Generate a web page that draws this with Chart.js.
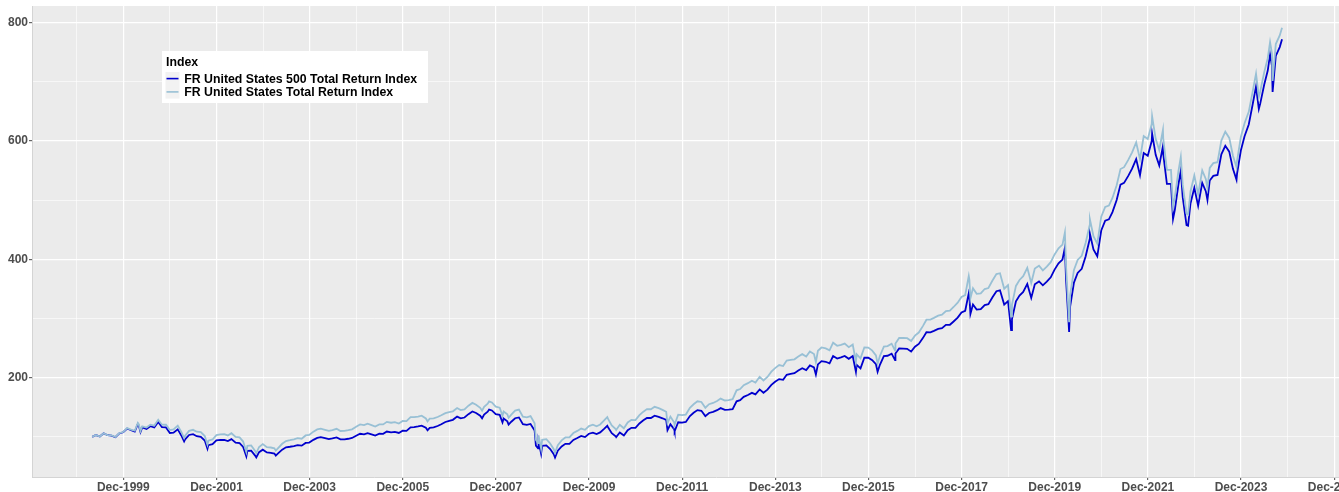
<!DOCTYPE html>
<html><head><meta charset="utf-8">
<script src="https://cdn.jsdelivr.net/npm/chart.js@4.4.1/dist/chart.umd.min.js"></script>
<style>
html,body{margin:0;padding:0;background:#fff;overflow:hidden;width:1339px;height:492px}
#wrap{position:relative;width:1400px;height:492px}
canvas{display:block}
</style></head><body>
<div id="wrap"><canvas id="c" width="1400" height="492"></canvas></div>
<script>
const dates = [
'1999-04-01','1999-04-30','1999-05-31','1999-06-30','1999-07-30','1999-08-31','1999-09-30','1999-10-29','1999-11-30','1999-12-31',
'2000-01-31','2000-02-29','2000-03-24','2000-03-31','2000-04-14','2000-04-28','2000-05-31','2000-06-30','2000-07-31','2000-08-31','2000-09-29','2000-10-31','2000-11-30','2000-12-29',
'2001-01-31','2001-02-28','2001-03-22','2001-03-30','2001-04-30','2001-05-31','2001-06-29','2001-07-31','2001-08-31','2001-09-21','2001-09-28','2001-10-31','2001-11-30','2001-12-31',
'2002-01-31','2002-02-28','2002-03-28','2002-04-30','2002-05-31','2002-06-28','2002-07-23','2002-07-31','2002-08-30','2002-09-30','2002-10-09','2002-10-31','2002-11-29','2002-12-31',
'2003-01-31','2003-02-28','2003-03-11','2003-03-31','2003-04-30','2003-05-30','2003-06-30','2003-07-31','2003-08-29','2003-09-30','2003-10-31','2003-11-28','2003-12-31',
'2004-01-30','2004-02-27','2004-03-31','2004-04-30','2004-05-28','2004-06-30','2004-07-30','2004-08-31','2004-09-30','2004-10-29','2004-11-30','2004-12-31',
'2005-01-31','2005-02-28','2005-03-31','2005-04-29','2005-05-31','2005-06-30','2005-07-29','2005-08-31','2005-09-30','2005-10-31','2005-11-30','2005-12-30',
'2006-01-31','2006-02-28','2006-03-31','2006-04-28','2006-05-31','2006-06-13','2006-06-30','2006-07-31','2006-08-31','2006-09-29','2006-10-31','2006-11-30','2006-12-29',
'2007-01-31','2007-02-28','2007-03-30','2007-04-30','2007-05-31','2007-06-29','2007-07-31','2007-08-15','2007-08-31','2007-09-28','2007-10-09','2007-10-31','2007-11-30','2007-12-31',
'2008-01-22','2008-01-31','2008-02-29','2008-03-10','2008-03-31','2008-04-30','2008-05-30','2008-06-30','2008-07-31','2008-08-29','2008-09-30','2008-10-10','2008-10-27','2008-10-31','2008-11-20','2008-11-28','2008-12-31',
'2009-01-30','2009-02-27','2009-03-09','2009-03-31','2009-04-30','2009-05-29','2009-06-30','2009-07-31','2009-08-31','2009-09-30','2009-10-30','2009-11-30','2009-12-31',
'2010-01-29','2010-02-26','2010-03-31','2010-04-23','2010-04-30','2010-05-28','2010-06-30','2010-07-02','2010-07-30','2010-08-31','2010-09-30','2010-10-29','2010-11-30','2010-12-31',
'2011-01-31','2011-02-28','2011-03-31','2011-04-29','2011-05-31','2011-06-30','2011-07-29','2011-08-08','2011-08-31','2011-09-30','2011-10-03','2011-10-31','2011-11-30','2011-12-30',
'2012-01-31','2012-02-29','2012-03-30','2012-04-30','2012-05-31','2012-06-29','2012-07-31','2012-08-31','2012-09-28','2012-10-31','2012-11-30','2012-12-31',
'2013-01-31','2013-02-28','2013-03-28','2013-04-30','2013-05-31','2013-06-28','2013-07-31','2013-08-30','2013-09-30','2013-10-31','2013-11-29','2013-12-31',
'2014-01-31','2014-02-28','2014-03-31','2014-04-30','2014-05-30','2014-06-30','2014-07-31','2014-08-29','2014-09-30','2014-10-15','2014-10-31','2014-11-28','2014-12-31',
'2015-01-30','2015-02-27','2015-03-31','2015-04-30','2015-05-29','2015-06-30','2015-07-31','2015-08-25','2015-08-31','2015-09-30','2015-10-30','2015-11-30','2015-12-31',
'2016-01-29','2016-02-11','2016-02-29','2016-03-31','2016-04-29','2016-05-31','2016-06-27','2016-06-30','2016-07-29','2016-08-31','2016-09-30','2016-10-31','2016-11-30','2016-12-30',
'2017-01-31','2017-02-28','2017-03-31','2017-04-28','2017-05-31','2017-06-30','2017-07-31','2017-08-31','2017-09-29','2017-10-31','2017-11-30','2017-12-29',
'2018-01-26','2018-01-31','2018-02-08','2018-02-28','2018-03-29','2018-04-30','2018-05-31','2018-06-29','2018-07-31','2018-08-31','2018-09-28','2018-10-31','2018-11-30','2018-12-24','2018-12-31',
'2019-01-31','2019-02-28','2019-03-29','2019-04-30','2019-05-31','2019-06-28','2019-07-31','2019-08-30','2019-09-30','2019-10-31','2019-11-29','2019-12-31',
'2020-01-31','2020-02-19','2020-02-28','2020-03-23','2020-03-31','2020-04-30','2020-05-29','2020-06-30','2020-07-31','2020-08-31','2020-09-02','2020-09-30','2020-10-30','2020-11-30','2020-12-31',
'2021-01-29','2021-02-26','2021-03-31','2021-04-30','2021-05-28','2021-06-30','2021-07-30','2021-08-31','2021-09-30','2021-10-29','2021-11-30','2021-12-31',
'2022-01-03','2022-01-31','2022-02-28','2022-03-29','2022-03-31','2022-04-29','2022-05-31','2022-06-16','2022-06-30','2022-07-29','2022-08-16','2022-08-31','2022-09-30','2022-10-12','2022-10-31','2022-11-30','2022-12-30',
'2023-01-31','2023-02-28','2023-03-13','2023-03-31','2023-04-28','2023-05-31','2023-06-30','2023-07-31','2023-08-31','2023-09-29','2023-10-27','2023-10-31','2023-11-30','2023-12-29',
'2024-01-31','2024-02-29','2024-03-28','2024-04-19','2024-04-30','2024-05-31','2024-06-28','2024-07-16','2024-07-31','2024-08-05','2024-08-30','2024-09-30','2024-10-18'
];

const fr500 = [
100,103.1,100.6,106.1,102.8,102.2,99.4,105.7,107.8,114.1,
111.2,109.0,121.9,119.6,108.2,115.9,113.4,118.0,116.1,125.0,116.5,115.9,106.6,107.1,
112.8,102.4,92.3,95.8,103.2,104.5,101.1,100.0,93.7,79.8,86.0,87.6,94.1,94.8,
94.7,92.8,96.1,90.3,89.4,83.0,66.9,76.4,76.8,68.3,65.1,74.2,78.4,73.7,
73.1,71.8,68.3,72.4,78.3,82.3,83.3,84.5,86.1,85.1,89.8,90.4,95.0,
98.2,99.4,97.7,96.1,97.3,99.0,95.7,95.8,96.8,98.1,101.9,105.2,
104.3,106.3,104.3,102.2,105.3,105.2,109.0,107.7,108.5,106.6,110.3,110.2,
116.2,116.3,117.6,119.0,115.3,111.1,115.3,116.0,118.4,121.3,125.1,127.2,128.8,
134.3,131.4,132.7,138.4,143.0,140.4,135.9,131.4,137.7,142.6,146.2,144.7,138.3,137.1,
124.3,130.9,126.3,120.8,125.6,131.5,132.9,121.5,120.2,121.8,110.7,85.3,80.5,92.0,71.4,85.0,85.7,
79.4,70.6,65.1,76.7,83.9,88.3,88.3,94.9,98.1,101.6,99.6,105.3,107.2,
104.7,107.6,114.0,118.7,115.7,106.2,100.5,99.6,107.4,102.3,111.2,115.3,115.1,122.7,
128.0,132.0,131.9,135.7,133.8,131.4,128.6,111.4,121.3,112.5,109.4,124.7,124.1,125.2,
135.3,140.8,145.2,144.1,135.1,140.4,142.2,145.1,148.6,145.6,146.0,147.0,
160.1,162.0,167.7,170.8,174.4,171.7,180.2,174.6,179.8,187.8,193.1,197.6,
196.5,204.9,206.3,207.6,212.0,216.0,212.8,220.7,217.3,205.2,222.4,227.9,226.9,
224.2,236.6,232.4,234.5,236.8,231.9,236.5,209.9,221.7,215.8,233.7,233.8,229.7,
222.7,210.0,221.8,236.5,237.1,240.7,229.7,241.0,249.6,249.2,248.9,244.1,252.4,257.0,
266.9,276.8,276.7,279.2,282.5,283.7,289.2,289.5,295.0,301.5,310.1,313.1,
342.8,336.9,307.9,323.8,315.1,315.9,322.7,324.3,336.0,346.2,347.6,323.5,329.3,280.5,299.1,
329.1,338.8,344.9,358.5,334.9,358.0,362.7,356.1,362.3,369.7,382.3,393.2,
399.7,419.5,366.0,277.2,320.3,360.8,377.1,384.1,405.3,433.7,443.6,416.7,405.2,448.8,465.4,
467.6,479.8,500.2,526.4,529.3,541.1,553.3,569.4,542.4,579.8,575.0,600.0,
612.6,576.7,558.6,591.5,578.5,527.7,527.7,468.3,483.3,527.4,549.7,505.1,457.9,456.8,494.5,521.0,490.4,
529.2,515.3,500.4,533.3,541.1,542.6,577.6,592.0,582.0,553.0,534.4,544.4,584.0,608.0,
628.0,660.0,691.9,654.2,663.2,695.1,719.1,746.3,727.2,683.0,743.8,758.8,772.0
];

const frTotal = [
100,103.1,100.6,106.2,103.0,102.5,99.7,106.1,108.2,114.7,
112.1,110.3,123.6,121.4,109.9,117.9,115.7,120.6,119.0,128.8,120.6,120.5,111.4,112.5,
118.9,108.3,98.0,101.8,110.1,111.9,108.7,107.9,101.5,86.7,93.5,95.6,103.0,104.3,
104.4,102.4,106.2,100.0,99.1,92.1,74.3,85.0,85.5,76.2,72.7,82.9,87.7,82.5,
82.0,80.7,76.8,81.5,88.3,93.0,94.3,95.8,97.8,96.8,102.4,103.2,108.8,
112.5,113.9,112.0,110.2,111.6,113.6,109.9,110.0,111.2,112.8,117.2,121.0,
119.9,122.2,119.9,117.5,121.1,121.0,125.4,123.9,124.8,122.6,126.8,126.7,
133.3,133.2,134.4,135.7,131.1,126.0,130.7,131.2,133.6,136.5,140.1,142.0,143.2,
148.8,145.3,146.6,152.7,157.4,154.4,149.2,144.1,150.9,156.1,159.9,158.2,151.0,149.4,
135.6,142.9,138.2,132.3,137.7,144.4,146.2,134.0,132.9,135.0,122.9,94.9,89.6,102.4,79.6,94.9,96.0,
88.9,79.1,72.9,85.9,94.0,99.0,99.0,106.4,110.1,114.1,111.9,118.3,120.6,
117.8,120.9,128.1,133.3,129.9,119.2,112.7,111.7,120.3,114.5,124.3,128.8,128.4,136.8,
142.6,146.9,146.7,150.8,148.5,145.7,142.5,123.3,134.2,124.3,120.8,137.5,136.8,137.7,
149.0,155.1,160.1,159.0,149.2,155.2,157.3,160.7,164.7,161.5,162.1,163.6,
178.7,180.9,187.3,190.8,194.9,191.9,201.5,195.3,201.2,210.2,216.2,221.3,
219.7,228.9,230.0,231.1,235.7,239.8,235.8,244.3,240.1,226.5,245.5,251.1,249.6,
246.2,259.1,254.0,255.6,257.6,251.6,256.1,226.7,239.4,232.6,251.2,250.9,245.8,
237.8,223.9,236.7,252.6,253.5,257.5,245.8,257.9,267.3,267.1,266.8,261.9,271.1,276.3,
287.2,298.0,298.2,301.1,304.9,306.5,312.6,313.3,319.5,326.8,336.5,339.7,
371.9,365.5,334.1,351.3,341.8,342.6,349.9,351.6,364.2,375.1,376.6,350.3,356.5,303.6,323.6,
355.1,365.2,371.5,385.7,360.0,384.5,389.2,381.4,387.7,395.2,407.9,418.8,
424.9,445.5,388.7,293.8,339.5,382.1,399.0,406.0,428.0,457.5,468.0,439.2,426.7,472.1,488.7,
491.0,503.8,525.2,552.7,555.8,568.1,580.9,597.6,569.3,608.5,603.4,628.8,
642.0,603.8,584.9,618.7,605.1,551.4,551.4,488.9,504.6,550.1,573.3,526.3,477.1,475.5,514.8,541.8,510.0,
550.4,535.9,520.4,554.6,562.7,564.3,600.7,615.7,605.3,575.1,555.8,566.2,606.8,630.0,
649.4,681.8,714.0,674.5,683.8,716.0,740.0,767.2,747.6,701.4,763.9,778.5,791.3
];

const seriesLabels = ['FR United States 500 Total Return Index', 'FR United States Total Return Index'];
const seriesColors = ['#0000CD', '#98C0D5'];
const legendTitle = 'Index';
const xTickYears = [1999,2001,2003,2005,2007,2009,2011,2013,2015,2017,2019,2021,2023,2025];
const xMinorYears = [1998,2000,2002,2004,2006,2008,2010,2012,2014,2016,2018,2020,2022,2024,2026];
const yTicks = [200,400,600,800];
const yMinorTicks = [100,300,500,700];

const toDay = s => Date.UTC(+s.slice(0,4), +s.slice(5,7)-1, +s.slice(8,10)) / 864e5;
const decDay = y => Date.UTC(y, 11, 1) / 864e5;

const PANEL_LEFT = 32, PANEL_TOP = 6, PANEL_BOTTOM = 477, CANVAS_W = 1400, CANVAS_H = 492;
const pxPerDay = 46.57 / 365.25;
const xMin = decDay(1999) - (123.3 - PANEL_LEFT) / pxPerDay;
const xMax = xMin + (CANVAS_W - PANEL_LEFT) / pxPerDay;
const pxPerUnit = (377.7 - 22.7) / 600;
const yMax = 800 + (22.7 - PANEL_TOP) / pxPerUnit;
const yMin = 200 - (PANEL_BOTTOM - 377.7) / pxPerUnit;

const FONT = "'Liberation Sans', Arial, Helvetica, sans-serif";

const mk = arr => dates.map((d, i) => ({ x: toDay(d), y: arr[i] }));

const bgPlugin = {
  id: 'panelBg',
  beforeDraw(chart) {
    const { ctx, chartArea: a } = chart;
    ctx.save();
    ctx.fillStyle = '#FFFFFF';
    ctx.fillRect(0, 0, chart.width, chart.height);
    ctx.fillStyle = '#EBEBEB';
    ctx.fillRect(a.left, a.top, a.right - a.left, a.bottom - a.top);
    ctx.restore();
  }
};

const legendPlugin = {
  id: 'ggLegend',
  afterDraw(chart) {
    const ctx = chart.ctx;
    ctx.save();
    ctx.fillStyle = '#FFFFFF';
    ctx.fillRect(162, 51, 266, 52);
    ctx.fillStyle = '#000000';
    ctx.font = 'bold 12.3px ' + FONT;
    ctx.textBaseline = 'alphabetic';
    ctx.textAlign = 'left';
    ctx.fillText(legendTitle, 166, 65.7);
    ctx.fillStyle = '#F2F2F2';
    ctx.fillRect(165.5, 72, 14, 26.6);
    chart.data.datasets.forEach((ds, i) => {
      const y = 78.6 + i * 13.3;
      ctx.strokeStyle = ds.borderColor;
      ctx.lineWidth = 1.6;
      ctx.beginPath();
      ctx.moveTo(166.5, y);
      ctx.lineTo(178.5, y);
      ctx.stroke();
      ctx.fillStyle = '#000000';
      ctx.fillText(ds.label, 184.3, 82.8 + i * 13.3);
    });
    ctx.restore();
  }
};

new Chart(document.getElementById('c'), {
  type: 'line',
  data: {
    datasets: [
      { label: seriesLabels[0], data: mk(fr500), borderColor: seriesColors[0], borderWidth: 1.8, pointRadius: 0, tension: 0, order: 1 },
      { label: seriesLabels[1], data: mk(frTotal), borderColor: seriesColors[1], borderWidth: 1.8, pointRadius: 0, tension: 0, order: 0 }
    ]
  },
  options: {
    responsive: false,
    animation: false,
    devicePixelRatio: 1,
    parsing: true,
    layout: { padding: { top: PANEL_TOP, left: 0, right: 0, bottom: 0 } },
    plugins: { legend: { display: false }, tooltip: { enabled: false } },
    scales: {
      x: {
        type: 'linear',
        min: xMin, max: xMax,
        afterBuildTicks(scale) {
          const t = [];
          xMinorYears.forEach(y => t.push({ value: decDay(y), minor: true }));
          xTickYears.forEach(y => t.push({ value: decDay(y), minor: false }));
          t.sort((a, b) => a.value - b.value);
          scale.ticks = t.filter(o => o.value >= xMin && o.value <= xMax);
        },
        afterFit(scale) {
          scale.height = CANVAS_H - PANEL_BOTTOM;
          scale.paddingLeft = 0; scale.paddingRight = 0;
        },
        ticks: {
          autoSkip: false, maxRotation: 0, minRotation: 0, padding: 0,
          color: '#4D4D4D',
          font: { family: FONT, size: 12, weight: 'bold' },
          callback(value) {
            const d = new Date(value * 864e5);
            const y = d.getUTCFullYear();
            return xTickYears.includes(y) ? 'Dec-' + y : '';
          }
        },
        grid: {
          color: '#FFFFFF',
          lineWidth: c => (c.tick && c.tick.minor) ? 0.6 : 1.2,
          tickColor: c => (c.tick && c.tick.minor) ? 'rgba(0,0,0,0)' : '#666666',
          tickLength: 3,
          drawOnChartArea: true
        },
        border: { display: true, color: '#D4D4D4', width: 1 }
      },
      y: {
        type: 'linear',
        min: yMin, max: yMax,
        afterBuildTicks(scale) {
          const t = [];
          yMinorTicks.forEach(v => t.push({ value: v, minor: true }));
          yTicks.forEach(v => t.push({ value: v, minor: false }));
          t.sort((a, b) => a.value - b.value);
          scale.ticks = t;
        },
        afterFit(scale) {
          scale.width = PANEL_LEFT;
          scale.paddingTop = 0; scale.paddingBottom = 0;
        },
        ticks: {
          autoSkip: false, padding: 1,
          color: '#4D4D4D',
          font: { family: FONT, size: 12, weight: 'bold' },
          callback(value) { return yTicks.includes(value) ? String(value) : ''; }
        },
        grid: {
          color: '#FFFFFF',
          lineWidth: c => (c.tick && c.tick.minor) ? 0.6 : 1.2,
          tickColor: c => (c.tick && c.tick.minor) ? 'rgba(0,0,0,0)' : '#666666',
          tickLength: 3,
          drawOnChartArea: true
        },
        border: { display: true, color: '#D4D4D4', width: 1 }
      }
    }
  },
  plugins: [bgPlugin, legendPlugin]
});
</script>
</body></html>
